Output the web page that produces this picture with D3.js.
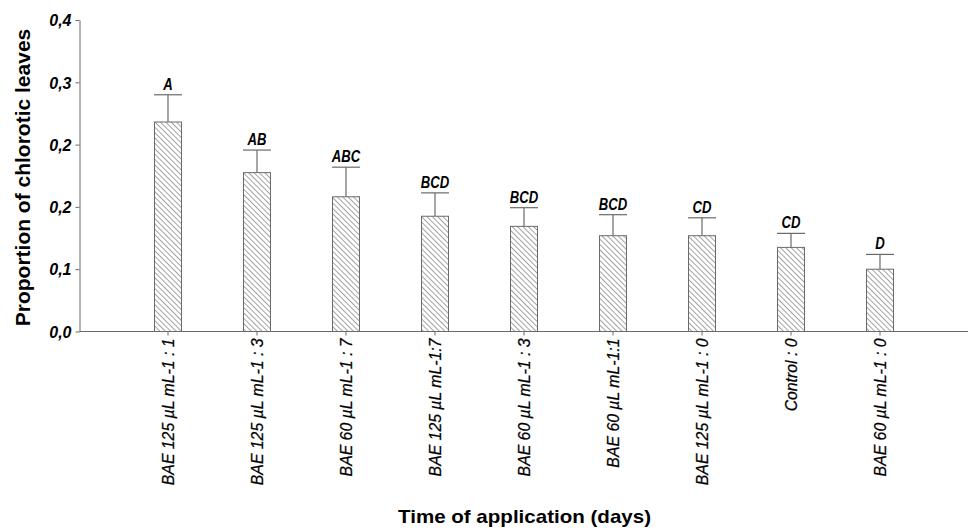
<!DOCTYPE html>
<html>
<head>
<meta charset="utf-8">
<script src="https://d3js.org/d3.v7.min.js"></script>
<style>
body { margin: 0; background: #fff; }
.lbl { font-family: "Liberation Sans", Arial, sans-serif; font-style: italic; }
.title { font-family: "Liberation Sans", Arial, sans-serif; font-weight: bold; }
</style>
</head>
<body>
<svg id="chart" width="970" height="529"></svg>
<script>
// data
var categories = ["BAE 125 µL mL-1 : 1", "BAE 125 µL mL-1 : 3", "BAE 60 µL mL-1 : 7", "BAE 125 µL mL-1:7",
  "BAE 60 µL mL-1 : 3", "BAE 60 µL mL-1:1", "BAE 125 µL mL-1 : 0", "Control : 0", "BAE 60 µL mL-1 : 0"]
var means = [0.269, 0.204, 0.173, 0.148, 0.135, 0.123, 0.123, 0.108, 0.080]
var upper = [0.304, 0.233, 0.211, 0.178, 0.159, 0.150, 0.146, 0.126, 0.099]
var letters = ["A", "AB", "ABC", "BCD", "BCD", "BCD", "CD", "CD", "D"]
var yTicks = [0, 0.08, 0.16, 0.24, 0.32, 0.40]
var yTickLabels = ["0,0", "0,1", "0,2", "0,2", "0,3", "0,4"]

var svg = d3.select("#chart")
var lineColor = "#6a6a6a"

var x = d3.scaleBand().domain(categories).range([123.5, 924.5]).padding(0)
var y = d3.scaleLinear().domain([0, 0.4]).range([331.5, 20])
var barW = 27
function cx(i) { return x(categories[i]) + x.bandwidth() / 2 }

// hatch pattern (\\\)
var defs = svg.append("defs")
var pat = defs.append("pattern").attr("id", "hatch").attr("patternUnits", "userSpaceOnUse")
  .attr("width", 3.8).attr("height", 3.8).attr("patternTransform", "rotate(-45)")
pat.append("rect").attr("width", 3.8).attr("height", 3.8).attr("fill", "#fff")
pat.append("line").attr("x1", 0.5).attr("y1", 0).attr("x2", 0.5).attr("y2", 3.8)
  .attr("stroke", "#8c8c8c").attr("stroke-width", 0.8)

// bars
svg.append("g").selectAll("rect").data(means).enter().append("rect")
  .attr("x", function(d, i) { return cx(i) - barW / 2 })
  .attr("y", function(d) { return y(d) })
  .attr("width", barW)
  .attr("height", function(d) { return y(0) - y(d) })
  .attr("fill", "url(#hatch)")
  .attr("stroke", lineColor).attr("stroke-width", 1)

// error bars
var eb = svg.append("g").attr("stroke", lineColor).attr("stroke-width", 1.2)
eb.selectAll("line.v").data(upper).enter().append("line").attr("class", "v")
  .attr("x1", function(d, i) { return cx(i) })
  .attr("x2", function(d, i) { return cx(i) })
  .attr("y1", function(d, i) { return y(means[i]) })
  .attr("y2", function(d) { return y(d) })
eb.selectAll("line.c").data(upper).enter().append("line").attr("class", "c")
  .attr("x1", function(d, i) { return cx(i) - barW / 2 - 0.5 })
  .attr("x2", function(d, i) { return cx(i) + barW / 2 + 0.5 })
  .attr("y1", function(d) { return y(d) })
  .attr("y2", function(d) { return y(d) })

// letters
svg.append("g").selectAll("text").data(letters).enter().append("text")
  .attr("class", "lbl").attr("font-weight", "bold")
  .attr("transform", function(d, i) { return "translate(" + cx(i) + "," + (y(upper[i]) - 5) + ") scale(0.82,1)" })
  .attr("text-anchor", "middle").attr("font-size", 16)
  .text(function(d) { return d })

// y axis
var yAxis = svg.append("g").attr("transform", "translate(79.5,0)")
  .call(d3.axisLeft(y).tickValues(yTicks).tickSize(4).tickSizeOuter(0)
    .tickFormat(function(d, i) { return yTickLabels[i] }))
yAxis.select(".domain").attr("stroke", lineColor)
yAxis.selectAll(".tick line").attr("stroke", lineColor)
yAxis.selectAll(".tick text").attr("class", "lbl").attr("font-weight", "bold").attr("font-size", 16)
  .attr("fill", "#000").attr("x", -8).attr("dy", "0.36em")

// x axis
svg.append("line").attr("x1", 79.5).attr("x2", 968).attr("y1", y(0)).attr("y2", y(0))
  .attr("stroke", lineColor)
var xAxis = svg.append("g").attr("transform", "translate(0," + y(0) + ")")
  .call(d3.axisBottom(x).tickSize(4).tickSizeOuter(0))
xAxis.select(".domain").remove()
xAxis.selectAll(".tick line").attr("stroke", lineColor)
xAxis.selectAll(".tick text").attr("class", "lbl").attr("font-size", 17).attr("fill", "#000")
  .attr("stroke", "#000").attr("stroke-width", 0.25)
  .attr("transform", "rotate(-90) scale(0.93,1)").attr("text-anchor", "end")
  .attr("x", -7.5).attr("y", 0).attr("dy", "0.36em")

// axis titles
svg.append("text").attr("class", "title").attr("font-size", 21)
  .attr("transform", "translate(30,177.5) rotate(-90)").attr("text-anchor", "middle")
  .text("Proportion of chlorotic leaves")
svg.append("text").attr("class", "title").attr("font-size", 19)
  .attr("x", 524.5).attr("y", 523).attr("text-anchor", "middle")
  .attr("textLength", 253).attr("lengthAdjust", "spacingAndGlyphs")
  .text("Time of application (days)")
</script>
</body>
</html>
